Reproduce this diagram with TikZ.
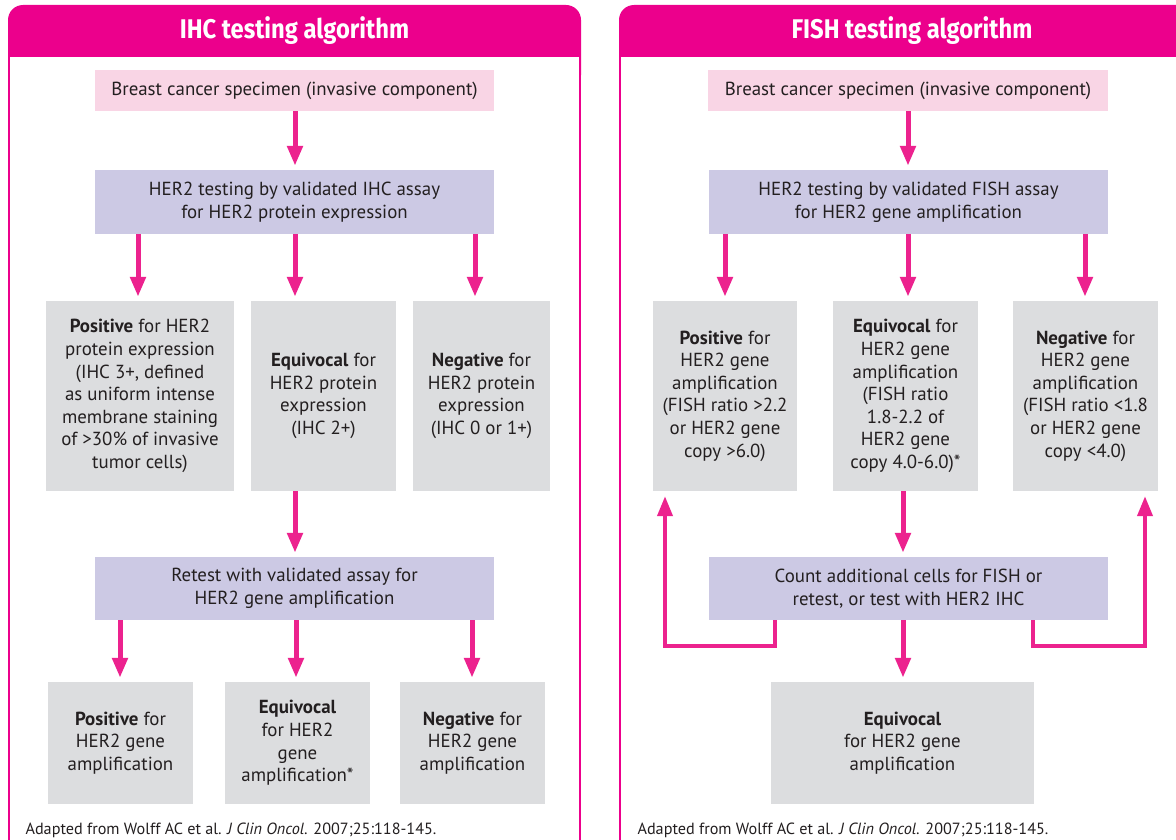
\documentclass[tikz,border=0pt]{standalone}
\usepackage{fontspec}
\setmainfont{PT Sans}
\newfontfamily\hdrfont{Fira Sans}[FakeStretch=0.88]
\usetikzlibrary{arrows.meta}
\definecolor{hdr}{RGB}{236,0,140}
\definecolor{arrc}{RGB}{236,34,142}
\definecolor{pinkbox}{RGB}{249,213,229}
\definecolor{lavbox}{RGB}{204,201,228}
\definecolor{graybox}{RGB}{220,221,223}
\definecolor{txt}{RGB}{35,31,32}
\tikzset{
  box/.style={inner sep=0pt, align=center, text=txt, font=\fontsize{18.9}{22.6}\selectfont},
  pbox/.style={box, fill=pinkbox, minimum height=41pt},
  lbox/.style={box, fill=lavbox, minimum height=64pt, minimum width=399pt},
  gbox/.style={box, fill=graybox, minimum height=190pt},
  bbox/.style={box, fill=graybox, minimum height=122pt},
  arr/.style={draw=arrc, line width=5pt, -{Triangle[width=15pt,length=20pt]}, shorten >=4pt},
  loopline/.style={draw=arrc, line width=4pt, line join=miter, -{Triangle[width=15pt,length=20pt]}, shorten >=5pt},
  hdrtext/.style={text=white, font=\hdrfont\bfseries\fontsize{27}{30}\selectfont},
  panelline/.style={draw=hdr, line width=2pt},
  captext/.style={anchor=base west, text=txt, font=\fontsize{16.2}{19}\selectfont}
}
\begin{document}
\begin{tikzpicture}[x=1pt,y=-1pt]
\useasboundingbox (0,0) rectangle (1176,840);
\clip (0,0) rectangle (1176,840);
% panels
\fill[hdr, rounded corners=15pt] (8,5) rectangle (581,90);
\fill[white] (10,57) rectangle (579,900);
\draw[panelline] (9,57) -- (9,900);
\draw[panelline] (580,57) -- (580,900);
\node[hdrtext] (h1) at (294.5,31) {IHC testing algorithm};
\fill[hdr, rounded corners=15pt] (619,5) rectangle (1205,90);
\fill[white] (621,57) rectangle (1203,900);
\draw[panelline] (620,57) -- (620,900);
\node[hdrtext] (h2) at (912,31) {FISH testing algorithm};
% left panel
\node[pbox, minimum width=399pt] (spec1) at (294.5,90.5) {Breast cancer specimen (invasive component)};
\node[lbox] (ihc) at (294.5,202) {HER2 testing by validated IHC assay\\for HER2 protein expression};
\node[gbox, minimum width=188pt] (pos1) at (140,396) {\textbf{Positive} for HER2\\protein expression\\(IHC 3+, defined\\as uniform intense\\membrane staining\\of >30\% of invasive\\tumor cells)};
\node[gbox, minimum width=145pt] (eq1) at (323.5,396) {\textbf{Equivocal} for\\HER2 protein\\expression\\(IHC 2+)};
\node[gbox, minimum width=137pt] (neg1) at (481.5,396) {\textbf{Negative} for\\HER2 protein\\expression\\(IHC 0 or 1+)};
\node[lbox, minimum height=63pt] (retest) at (294.5,588.5) {Retest with validated assay for\\HER2 gene amplification};
\node[bbox, minimum width=145pt] (pos2) at (120.5,743) {\textbf{Positive} for\\HER2 gene\\amplification};
\node[bbox, minimum width=145pt] (eq2) at (297.5,743) {\textbf{Equivocal}\\for HER2\\gene\\amplification*};
\node[bbox, minimum width=145pt] (neg2) at (472.5,743) {\textbf{Negative} for\\HER2 gene\\amplification};
\draw[arr] (spec1.south -| 295,0) -- (ihc.north -| 295,0);
\draw[arr] (ihc.south -| 138,0) -- (pos1.north -| 138,0);
\draw[arr] (ihc.south -| 295,0) -- (eq1.north -| 295,0);
\draw[arr] (ihc.south -| 475,0) -- (neg1.north -| 475,0);
\draw[arr] (eq1.south -| 295,0) -- (retest.north -| 295,0);
\draw[arr] (retest.south -| 120,0) -- (pos2.north -| 120,0);
\draw[arr] (retest.south -| 296,0) -- (eq2.north -| 296,0);
\draw[arr] (retest.south -| 472,0) -- (neg2.north -| 472,0);
\node[captext] (cap1) at (22,834) {Adapted from Wolff AC et al. \textit{J Clin Oncol}. 2007;25:118-145.};
% right panel
\node[pbox, minimum width=400pt] (spec2) at (908,90.5) {Breast cancer specimen (invasive component)};
\node[lbox] (fish) at (908.5,202) {HER2 testing by validated FISH assay\\for HER2 gene amplification};
\node[gbox, minimum width=144pt] (pos3) at (725,396) {\textbf{Positive} for\\HER2 gene\\amplification\\(FISH ratio >2.2\\or HER2 gene\\copy >6.0)};
\node[gbox, minimum width=145pt] (eq3) at (905.5,396) {\textbf{Equivocal} for\\HER2 gene\\amplification\\(FISH ratio\\1.8-2.2 of\\HER2 gene\\copy 4.0-6.0)*};
\node[gbox, minimum width=145pt] (neg3) at (1085.5,396) {\textbf{Negative} for\\HER2 gene\\amplification\\(FISH ratio <1.8\\or HER2 gene\\copy <4.0)};
\node[lbox, minimum height=63pt] (count) at (908.5,588.5) {Count additional cells for FISH or\\retest, or test with HER2 IHC};
\node[bbox, minimum width=263pt] (eq4) at (902.5,743) {\textbf{Equivocal}\\for HER2 gene\\amplification};
\draw[arr] (spec2.south -| 908,0) -- (fish.north -| 908,0);
\draw[arr] (fish.south -| 725,0) -- (pos3.north -| 725,0);
\draw[arr] (fish.south -| 908,0) -- (eq3.north -| 908,0);
\draw[arr] (fish.south -| 1085,0) -- (neg3.north -| 1085,0);
\draw[arr] (eq3.south -| 903,0) -- (count.north -| 903,0);
\draw[arr] (count.south -| 903,0) -- (eq4.north -| 903,0);
\draw[loopline] (count.south -| 775,0) -- ++(0,26) -| (pos3.south -| 665,0);
\draw[loopline] (count.south -| 1033,0) -- ++(0,26) -| (neg3.south -| 1145,0);
\node[captext] (cap2) at (634,834) {Adapted from Wolff AC et al. \textit{J Clin Oncol}. 2007;25:118-145.};
\end{tikzpicture}
\end{document}
